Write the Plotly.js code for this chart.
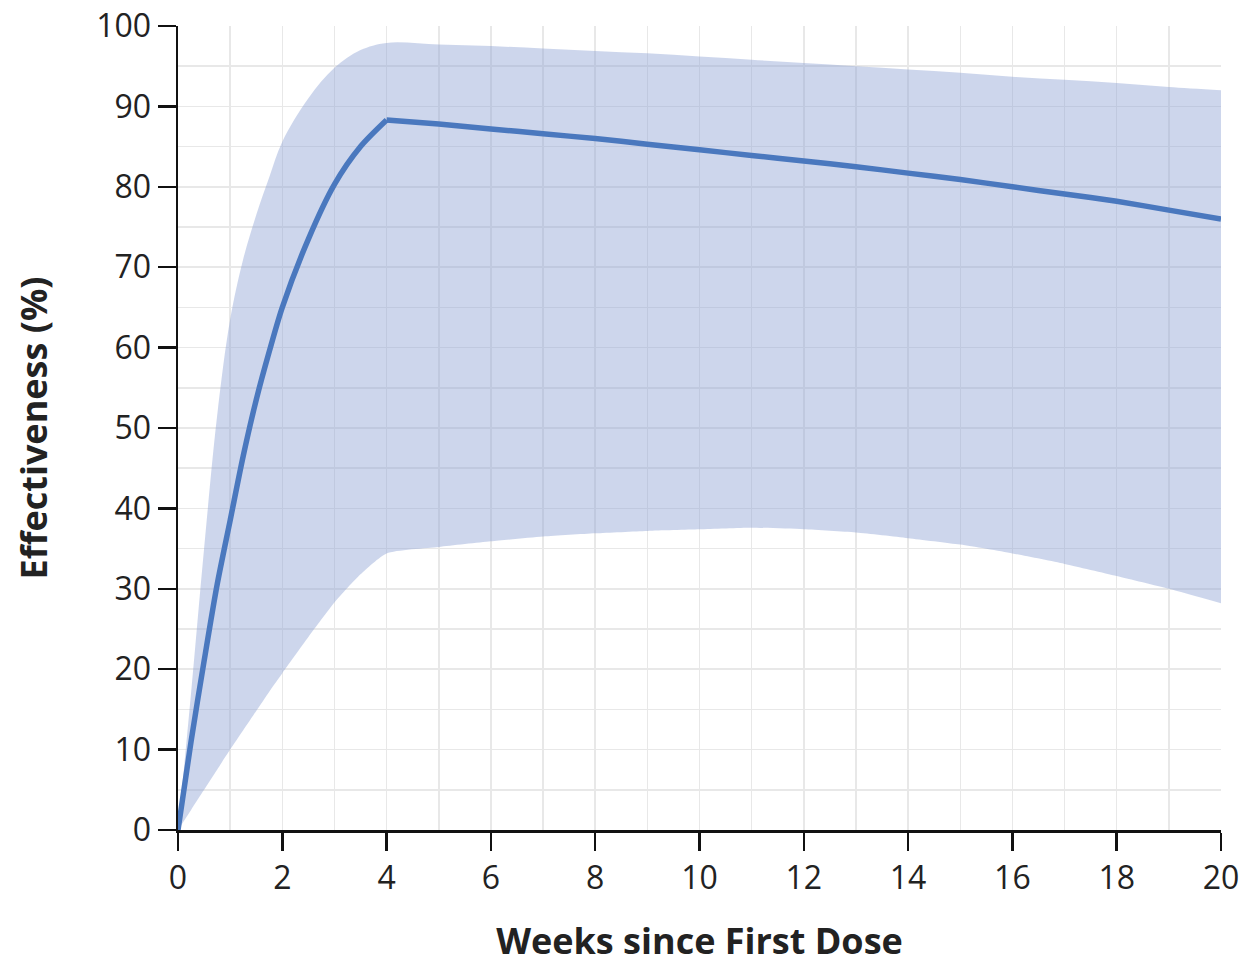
<!DOCTYPE html>
<html>
<head>
<meta charset="utf-8">
<script src="https://cdn.plot.ly/plotly-3.0.1.min.js"></script>
<style>html,body{margin:0;padding:0;background:#fff;}#chart{width:1255px;height:966px;}</style>
</head>
<body>
<div id="chart"></div>
<script>
// Weeks since first dose
const weeks = [0, 0.25, 0.5, 0.75, 1, 1.25, 1.5, 1.75, 2, 2.5, 3, 3.5, 4,
  5, 6, 7, 8, 9, 10, 11, 12, 13, 14, 15, 16, 17, 18, 19, 20];
// Estimated effectiveness (%)
const effectiveness = [0, 11, 21, 30.5, 38.5, 46.5, 53.5, 59.5, 65, 73.5, 80.3, 85.0, 88.3,
  87.8, 87.2, 86.6, 86.0, 85.3, 84.6, 83.9, 83.2, 82.5, 81.7, 80.9, 80.0, 79.1, 78.2, 77.1, 76.0];
// Upper bound of interval
const upperBound = [0, 17, 35, 51.5, 63.5, 71, 76.5, 81.2, 85.6, 91, 94.8, 97, 97.9,
  97.7, 97.5, 97.2, 96.9, 96.6, 96.2, 95.8, 95.4, 95.0, 94.6, 94.2, 93.7, 93.3, 92.9, 92.4, 92.0];
// Lower bound of interval
const lowerBound = [0, 2.5, 5, 7.5, 10, 12.4, 14.8, 17.2, 19.5, 24, 28.3, 31.8, 34.4,
  35.2, 35.9, 36.5, 36.9, 37.2, 37.4, 37.6, 37.4, 37.0, 36.3, 35.5, 34.4, 33.1, 31.6, 30.0, 28.2];

const xTicks = [0, 2, 4, 6, 8, 10, 12, 14, 16, 18, 20];
const yTicks = [0, 10, 20, 30, 40, 50, 60, 70, 80, 90, 100];

// index of the peak (week 4) where the line bends sharply
const peakIdx = weeks.indexOf(4);

const fontFam = '"Open Sans", "Noto Sans", sans-serif';
const lineColor = '#4a78be';

const traces = [
  {x: weeks, y: lowerBound, type: 'scatter', mode: 'lines',
   line: {width: 0, color: 'rgba(0,0,0,0)', shape: 'spline', smoothing: 0.6},
   hoverinfo: 'skip', showlegend: false},
  {x: weeks, y: upperBound, type: 'scatter', mode: 'lines', fill: 'tonexty',
   fillcolor: 'rgba(144,164,213,0.45)',
   line: {width: 0, color: 'rgba(0,0,0,0)', shape: 'spline', smoothing: 1},
   hoverinfo: 'skip', showlegend: false},
  {x: weeks.slice(0, peakIdx + 1), y: effectiveness.slice(0, peakIdx + 1),
   type: 'scatter', mode: 'lines',
   line: {color: lineColor, width: 5.5, shape: 'spline', smoothing: 0.8}, showlegend: false},
  {x: weeks.slice(peakIdx), y: effectiveness.slice(peakIdx),
   type: 'scatter', mode: 'lines',
   line: {color: lineColor, width: 5.5, shape: 'spline', smoothing: 0.6}, showlegend: false}
];

const gridCol = '#e8e8e8';

const layout = {
  width: 1255, height: 966,
  margin: {l: 178, r: 34, t: 26, b: 136},
  paper_bgcolor: '#fff', plot_bgcolor: '#fff',
  font: {family: fontFam, color: '#222', size: 32},
  xaxis: {
    range: [0, 20], tickvals: xTicks, ticktext: xTicks.map(String),
    showline: true, linecolor: '#111', linewidth: 2.5,
    ticks: 'outside', ticklen: 18, tickwidth: 2.5, tickcolor: '#111',
    showgrid: true, gridcolor: gridCol, gridwidth: 1.5,
    minor: {dtick: 1, showgrid: true, gridcolor: gridCol, gridwidth: 1.5},
    zeroline: false, fixedrange: true,
    tickfont: {size: 32, family: fontFam, color: '#222'},
    title: {text: 'Weeks since First Dose', standoff: 32,
            font: {size: 36, family: fontFam, color: '#222', weight: 'bold'}}
  },
  yaxis: {
    range: [0, 100], tickvals: yTicks, ticktext: yTicks.map(String),
    showline: true, linecolor: '#111', linewidth: 2.5,
    ticks: 'outside', ticklen: 18, tickwidth: 2.5, tickcolor: '#111',
    showgrid: true, gridcolor: gridCol, gridwidth: 1.5,
    minor: {dtick: 5, showgrid: true, gridcolor: gridCol, gridwidth: 1.5},
    zeroline: false, fixedrange: true,
    tickfont: {size: 32, family: fontFam, color: '#222'},
    title: {text: 'Effectiveness (%)', standoff: 38,
            font: {size: 36, family: fontFam, color: '#222', weight: 'bold'}}
  }
};

Plotly.newPlot('chart', traces, layout, {staticPlot: true, displayModeBar: false});
</script>
</body>
</html>
